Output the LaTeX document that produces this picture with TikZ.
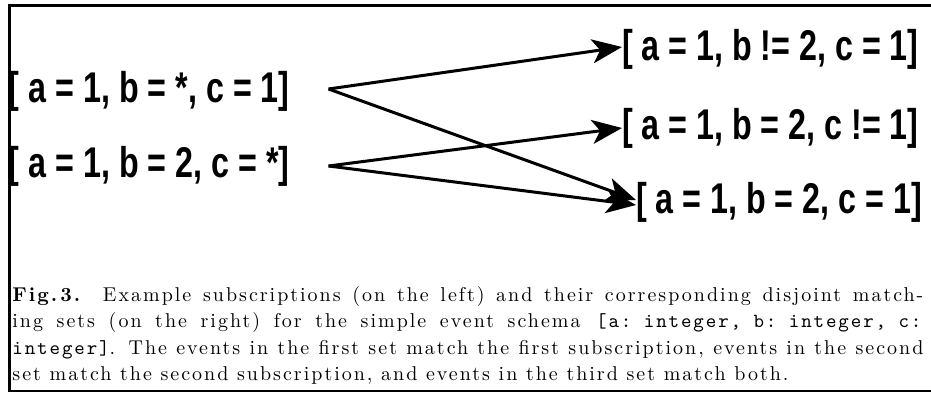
\documentclass[tikz,border=0pt]{standalone}
\usepackage{fontspec}
\setmainfont{lmroman10-regular.otf}[BoldFont=lmroman10-bold.otf, ItalicFont=lmroman10-italic.otf, LetterSpace=10]
\setmonofont{lmmono10-regular.otf}[LetterSpace=9.5]
\usetikzlibrary{arrows.meta}
\newfontfamily\condfont[FakeStretch=0.75]{Liberation Sans}
\tikzset{
  set/.style={inner sep=0pt, outer sep=0pt, anchor=west, font=\condfont\bfseries\fontsize{21.5}{24}\selectfont},
  arr/.style={line width=1.5pt, -{Stealth[length=15pt,width=12pt,inset=4pt]}},
  frame/.style={line width=1.3pt}
}
\begin{document}
\begin{tikzpicture}[x=0.5pt,y=-0.5pt]
\useasboundingbox (0,0) rectangle (931,394);
% frame (open on the right)
\draw[frame] (931,5.5) -- (9.5,5.5) -- (9.5,391) -- (931,391);
% subscriptions
\node[set] (L1) at (9,91) {[ a = 1, b = *, c = 1]};
\node[set] (L2) at (9,166) {[ a = 1, b = 2, c = *]};
% matching sets
\node[set] (R1) at (622,49) {[ a = 1, b != 2, c = 1]};
\node[set] (R2) at (622,128) {[ a = 1, b = 2, c != 1]};
\node[set] (R3) at (636,202) {[ a = 1, b = 2, c = 1]};
% connectors
\draw[arr] ([xshift=19.5pt,yshift=1pt]L1.east) -- ([yshift=1pt]R1.west);
\draw[arr] ([xshift=19.5pt,yshift=1pt]L1.east) -- ([yshift=1pt]R3.west);
\draw[arr] ([xshift=19.5pt,yshift=0pt]L2.east) -- ([yshift=0pt]R2.west);
\draw[arr] ([xshift=19.5pt,yshift=0pt]L2.east) -- ([yshift=-1.5pt]R3.west);
% caption
\node[inner sep=0pt, anchor=north west, text width=455.5pt, align=justify,
      font=\fontsize{10}{13.25}\selectfont] (cap) at (12,286)
{\textbf{Fig.\,3.} Example subscriptions (on the left) and their corresponding disjoint match-\linebreak
ing sets (on the right) for the simple event schema \texttt{[a: integer, b: integer, c:}\linebreak
\texttt{integer]}. The events in the first set match the first subscription, events in the second\linebreak
set match the second subscription, and events in the third set match both.};
\end{tikzpicture}
\end{document}
